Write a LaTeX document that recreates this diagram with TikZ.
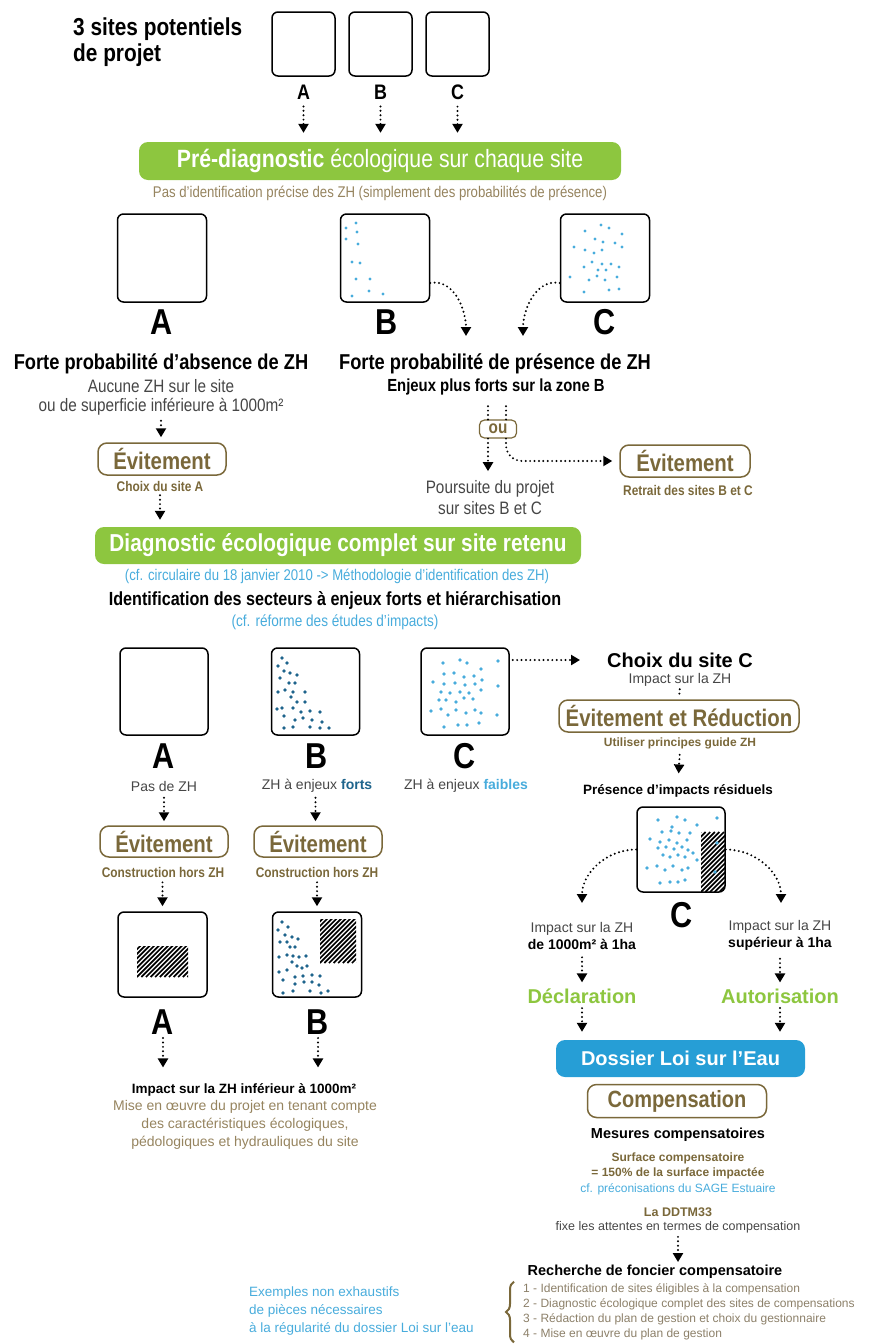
\documentclass[tikz,border=0pt]{standalone}
\usepackage{fontspec}
\setmainfont{Liberation Sans}
\newfontfamily\etroit{Liberation Sans}[FakeStretch=0.85]
\usetikzlibrary{arrows.meta,decorations.pathreplacing}

\definecolor{vert}{RGB}{141,198,63}
\definecolor{brun}{RGB}{122,104,58}
\definecolor{brunclair}{RGB}{150,132,95}
\definecolor{bleu}{RGB}{72,172,220}
\definecolor{bleufonce}{RGB}{30,100,140}
\definecolor{bleudossier}{RGB}{38,158,214}
\definecolor{gristexte}{RGB}{70,70,70}
\definecolor{grisbrun}{RGB}{140,128,105}

\newcommand{\taille}[2]{\fontsize{#1}{#2}\selectfont}
\newcommand{\hachures}[4]{%
  \begin{scope}
    \clip (#1,#2) rectangle (#3,#4);
    \foreach \i in {0,4.6,...,160} \draw[line width=1.7pt] (#1-60+\i,#4) -- ++(60,-60);
  \end{scope}}

\begin{document}
\begin{tikzpicture}[x=1pt,y=-1pt, every node/.style={inner sep=0pt, align=center},
  site/.style={draw, line width=1.5pt, rounded corners=6pt, minimum width=89pt, minimum height=88pt},
  barre/.style={fill=vert, rounded corners=9pt, text=white},
  evit/.style={draw=brun, line width=1.5pt, rounded corners=9pt, text=brun, font=\etroit\taille{24}{26}\bfseries},
  fleche/.style={line width=2.2pt, dash pattern=on 0pt off 4.4pt, line cap=round, -{Triangle[width=10pt,length=9pt]}},
  pointille/.style={line width=2.2pt, dash pattern=on 0pt off 4.4pt, line cap=round},
  lettre/.style={font=\etroit\taille{36}{40}\bfseries},
  gris/.style={text=gristexte, font=\taille{14}{17}},
  legende/.style={text=brun, font=\etroit\taille{14}{16}\bfseries}]

  \useasboundingbox (0,0) rectangle (876,1344);

  \node[anchor=west, align=left, font=\etroit\taille{24.5}{26}\bfseries] (titre) at (73,42) {3 sites potentiels\\de projet};
  \node[barre, minimum width=482pt, minimum height=38pt, font=\etroit\taille{25}{28}] (pre) at (380,161) {\textbf{Pré-diagnostic} écologique sur chaque site};
  \node[text=brunclair, font=\etroit\taille{15.5}{18}] (proba) at (380,193) {Pas d’identification précise des ZH (simplement des probabilités de présence)};
  \foreach \x/\n/\l in {303.5/1/A, 380.5/2/B, 457.5/3/C} {
    \node[site, minimum width=63pt, minimum height=64pt] (s\n) at (\x,44) {};
    \node[font=\etroit\taille{21}{24}\bfseries] (l\n) at (\x,92) {\l};
    \draw[fleche, shorten <=7pt, shorten >=9pt] (l\n.south) -- (l\n.south |- pre.north);
  }

  \node[site] (a2) at (162,258) {};
  \node[site] (b2) at (385,258) {};
  \node[site] (c2) at (605,258) {};
  \foreach \p in {(356,223),(346,228),(357,232),(346,239),(358,244),(352,262),(360,263),(356,279),(370,279),(352,296),(369,291),(383,294)}
    \fill[bleu] \p circle (1.7pt);
  \foreach \p in {(585,231),(601,225),(609,228),(622,234),(595,239),(603,242),(615,243),(574,247),(585,250),(594,253),(602,250),(622,247),(592,262),(602,264),(611,264),(619,267),(584,267),(598,270),(606,270),(570,277),(589,280),(597,276),(605,280),(617,277),(584,292),(609,290),(619,289)}
    \fill[bleu] \p circle (1.7pt);
  \node[lettre] (la2) at (162,322) {A};
  \node[lettre] (lb2) at (387,322) {B};
  \node[lettre] (lc2) at (605,322) {C};

  \node[font=\etroit\taille{21.5}{24}\bfseries] (fabs) at (161,364) {Forte probabilité d’absence de ZH};
  \node[font=\etroit\taille{21.5}{24}\bfseries] (fpres) at (495,364) {Forte probabilité de présence de ZH};
  \node[font=\etroit\taille{17.5}{20}\bfseries] (enjeux) at (496,387) {Enjeux plus forts sur la zone B};
  \node[text=gristexte, font=\etroit\taille{18}{19.5}] (aucune) at (161,397.5) {Aucune ZH sur le site\\ou de superficie inférieure à 1000m²};
  \coordinate (finB) at (466,336);
  \coordinate (finC) at (523,336);

  \node[evit, minimum width=128pt, minimum height=32pt] (evA) at (162,459) {Évitement};
  \node[legende] (choixA) at (160,486) {Choix du site A};
  \node[draw=brun, line width=1.2pt, rounded corners=5pt, text=brun, font=\etroit\taille{18}{20}\bfseries, minimum width=37pt, minimum height=18pt] (ou) at (498,429) {ou};
  \node[text=gristexte, font=\etroit\taille{18}{21}] (suite) at (490,497.5) {Poursuite du projet\\sur sites B et C};
  \node[evit, minimum width=130pt, minimum height=32pt] (evR) at (685,461) {Évitement};
  \node[legende] (retrait) at (688,490) {Retrait des sites B et C};

  \draw[fleche] ([yshift=-25pt]b2.east) to[out=10,in=90] (finB);
  \draw[fleche] ([yshift=-25pt]c2.west) to[out=170,in=90] (finC);
  \draw[fleche, shorten <=5pt, shorten >=5pt] (aucune.south) -- (aucune.south |- evA.north);
  \draw[pointille, shorten >=9pt] ([xshift=-10pt]ou.north) -- ([xshift=-10pt]ou.north |- enjeux.south);
  \draw[pointille, shorten >=9pt] ([xshift=8pt]ou.north) -- ([xshift=8pt]ou.north |- enjeux.south);
  \draw[fleche, shorten >=9pt] ([xshift=-10pt]ou.south) -- ([xshift=-10pt]ou.south |- suite.north);
  \draw[fleche, rounded corners=16pt, shorten >=7pt] ([xshift=8pt]ou.south) |- (evR.west);

  \node[barre, minimum width=486pt, minimum height=37pt, font=\etroit\taille{24.5}{27}\bfseries] (diag) at (338,545.5) {Diagnostic écologique complet sur site retenu};
  \draw[fleche, shorten <=4pt, shorten >=7pt] (choixA.south) -- (choixA.south |- diag.north);
  \node[text=bleu, font=\etroit\taille{15.5}{18}] (circ) at (337,576) {(cf. circulaire du 18 janvier 2010 -> Méthodologie d’identification des ZH)};
  \node[font=\etroit\taille{19}{22}\bfseries] (ident) at (335,600) {Identification des secteurs à enjeux forts et hiérarchisation};
  \node[text=bleu, font=\etroit\taille{16}{18}] (reforme) at (335,622) {(cf. réforme des études d’impacts)};

  \node[site, minimum width=88pt, minimum height=87pt] (a3) at (164,691.5) {};
  \node[site, minimum width=88pt, minimum height=87pt] (b3) at (315.5,691.5) {};
  \node[site, minimum width=88pt, minimum height=87pt] (c3) at (465,691.5) {};
  \foreach \p in {(282,658),(287,663),(278,666),(284,671),(290,673),(297,675),(280,678),(289,683),(295,683),(278,692),(285,690),(293,692),(305,692),(291,697),(297,702),(305,702),(282,708),(293,708),(301,712),(310,711),(320,712),(284,716),(295,720),(303,718),(312,720),(322,722),(284,728),(293,727),(310,727),(320,728),(329,728),(277,709)}
    \fill[bleufonce] \p circle (1.8pt);
  \foreach \p in {(443,663),(460,660),(467,663),(481,669),(498,661),(444,674),(454,673),(464,677),(474,676),(482,680),(433,682),(444,684),(455,683),(465,685),(475,684),(498,686),(441,692),(450,693),(460,692),(469,693),(481,690),(446,700),(456,702),(464,698),(473,699),(431,711),(441,709),(448,715),(456,710),(466,713),(475,710),(481,713),(497,715),(444,727),(458,725),(467,725),(479,723),(439,700)}
    \fill[bleu] \p circle (1.8pt);
  \node[lettre] (la3) at (164,756) {A};
  \node[lettre] (lb3) at (317,756) {B};
  \node[lettre] (lc3) at (465,756) {C};
  \node[gris] (pasZH) at (164,786) {Pas de ZH};
  \node[gris] (forts) at (317,786) {ZH à enjeux \textcolor{bleufonce}{\textbf{forts}}};
  \node[gris] (faibles) at (466,786) {ZH à enjeux \textcolor{bleu}{\textbf{faibles}}};
  \node[evit, minimum width=128pt, minimum height=31pt] (evA3) at (164,841.5) {Évitement};
  \node[evit, minimum width=128pt, minimum height=31pt] (evB3) at (318,841.5) {Évitement};
  \node[legende] (constrA) at (163,872) {Construction hors ZH};
  \node[legende] (constrB) at (317,872) {Construction hors ZH};

  \hachures{137}{946}{188}{977}
  \hachures{320}{919}{356}{963}
  \node[site, minimum width=89pt, minimum height=85pt] (a4) at (162.5,954.5) {};
  \node[site, minimum width=89pt, minimum height=85pt] (b4) at (317,954.5) {};
  \foreach \p in {(282,922),(288,927),(278,930),(285,935),(292,937),(298,939),(280,942),(287,942),(290,947),(295,947),(279,957),(287,955),(293,956),(299,957),(306,956),(292,962),(297,966),(302,968),(307,966),(279,972),(287,970),(295,977),(303,976),(312,975),(320,976),(283,980),(295,984),(304,982),(312,982),(319,985),(283,993),(293,991),(310,991),(321,993),(328,991)}
    \fill[bleufonce] \p circle (1.8pt);
  \node[lettre] (la4) at (163,1022) {A};
  \node[lettre] (lb4) at (318,1022) {B};
  \node[font=\taille{13.5}{16}\bfseries] (impact) at (244,1090) {Impact sur la ZH inférieur à 1000m²};
  \node[text=brunclair, font=\taille{14}{18}] (mise) at (245,1125) {Mise en œuvre du projet en tenant compte\\des caractéristiques écologiques,\\pédologiques et hydrauliques du site};

  \foreach \n in {a,b} {
    \draw[fleche, shorten <=5pt, shorten >=4pt] (\n3.south |- forts.south) -- (\n3.south |- evA3.north);
    \draw[fleche, shorten <=5pt, shorten >=5pt] (constrA.south -| \n4.north) -- (\n4.north);
    \draw[fleche, shorten <=3.5pt, shorten >=16pt] (l\n4.south) -- (l\n4.south |- impact.north);
  }

  \node[font=\taille{20}{24}\bfseries] (choixC) at (680,660) {Choix du site C};
  \node[gris] (impC) at (680,680) {Impact sur la ZH};
  \node[evit, minimum width=240pt, minimum height=32pt] (evR2) at (679,716) {Évitement et Réduction};
  \node[text=brun, font=\taille{12}{14}\bfseries] (utiliser) at (680,743) {Utiliser principes guide ZH};
  \node[font=\taille{13.5}{16}\bfseries] (presence) at (678,791) {Présence d’impacts résiduels};
  \begin{scope}
    \clip[rounded corners=6pt] (637,807) rectangle (725,892);
    \hachures{701}{807}{725}{892}
  \end{scope}
  \node[site, minimum width=88pt, minimum height=85pt] (c5) at (681,849.5) {};
  \foreach \p in {(658,820),(677,817),(685,820),(697,825),(662,832),(671,831),(679,833),(690,833),(650,839),(660,842),(669,840),(677,843),(687,840),(658,848),(666,847),(674,849),(682,847),(688,850),(663,855),(670,857),(678,855),(685,857),(693,853),(647,868),(657,866),(665,870),(673,866),(682,870),(688,868),(660,883),(670,882),(678,882),(685,880),(717,818),(717,843),(715,872),(697,860),(672,827)}
    \fill[bleu] \p circle (1.8pt);
  \node[lettre] (lc5) at (682,915) {C};
  \coordinate (finL) at (582,903);
  \coordinate (finR) at (781,903);
  \node[gris] (seuilL) at (582,935.5) {Impact sur la ZH\\\textcolor{black}{\textbf{de 1000m² à 1ha}}};
  \node[gris] (seuilR) at (780,935.5) {Impact sur la ZH\\\textcolor{black}{\textbf{supérieur à 1ha}}};
  \node[text=vert, font=\taille{20}{24}\bfseries] (decl) at (582,996) {Déclaration};
  \node[text=vert, font=\taille{20}{24}\bfseries] (autor) at (780,996) {Autorisation};
  \node[fill=bleudossier, rounded corners=9pt, text=white, font=\taille{20}{24}\bfseries, minimum width=249pt, minimum height=37pt] (dossier) at (680.5,1058.5) {Dossier Loi sur l’Eau};
  \node[evit, minimum width=179pt, minimum height=33pt, font=\etroit\taille{23.5}{26}\bfseries] (comp) at (677,1101) {Compensation};
  \node[font=\taille{14.5}{17}\bfseries] (mesures) at (678,1135) {Mesures compensatoires};
  \node[text=brun, font=\taille{12}{15.5}\bfseries] (surface) at (678,1173.5) {Surface compensatoire\\= 150\% de la surface impactée\\\textcolor{bleu}{\mdseries cf. préconisations du SAGE Estuaire}};
  \node[text=gristexte, font=\taille{12.5}{14}] (ddtm) at (678,1220) {\textcolor{brun}{\textbf{La DDTM33}}\\fixe les attentes en termes de compensation};
  \node[font=\taille{14.5}{17}\bfseries] (recherche) at (655,1272) {Recherche de foncier compensatoire};
  \node[anchor=west, align=left, text=grisbrun, font=\taille{12}{15}] (etapes) at (523,1312) {1 - Identification de sites éligibles à la compensation\\2 - Diagnostic écologique complet des sites de compensations\\3 - Rédaction du plan de gestion et choix du gestionnaire\\4 - Mise en œuvre du plan de gestion};
  \node[anchor=west, align=left, text=bleu, font=\taille{13.5}{18}] (exemples) at (249,1311) {Exemples non exhaustifs\\de pièces nécessaires\\à la régularité du dossier Loi sur l’eau};

  \draw[fleche, shorten <=3pt, shorten >=27pt] ([yshift=31.5pt]c3.east) -- (choixC.west);
  \draw[pointille, shorten <=2.5pt, shorten >=2pt] (impC.south) -- (evR2.north);
  \draw[fleche, shorten <=6pt, shorten >=11pt] (utiliser.south) -- (presence.north);
  \draw[fleche] (c5.west) to[out=180,in=90] (finL);
  \draw[fleche] (c5.east) to[out=0,in=90] (finR);
  \foreach \n/\m in {seuilL/decl, seuilR/autor} {
    \draw[fleche, shorten <=8pt, shorten >=6pt] (\n.south) -- (\m.north);
    \draw[fleche, shorten <=4.5pt, shorten >=8pt] (\m.south) -- (\m.south |- dossier.north);
  }
  \draw[fleche, shorten <=4pt, shorten >=3pt] (ddtm.south) -- (ddtm.south |- recherche.north);
  \draw[brun, line width=2pt, decorate, decoration={brace, amplitude=8pt}] ([xshift=-9pt,yshift=-2pt]etapes.south west) -- ([xshift=-9pt,yshift=2pt]etapes.north west);
\end{tikzpicture}
\end{document}
